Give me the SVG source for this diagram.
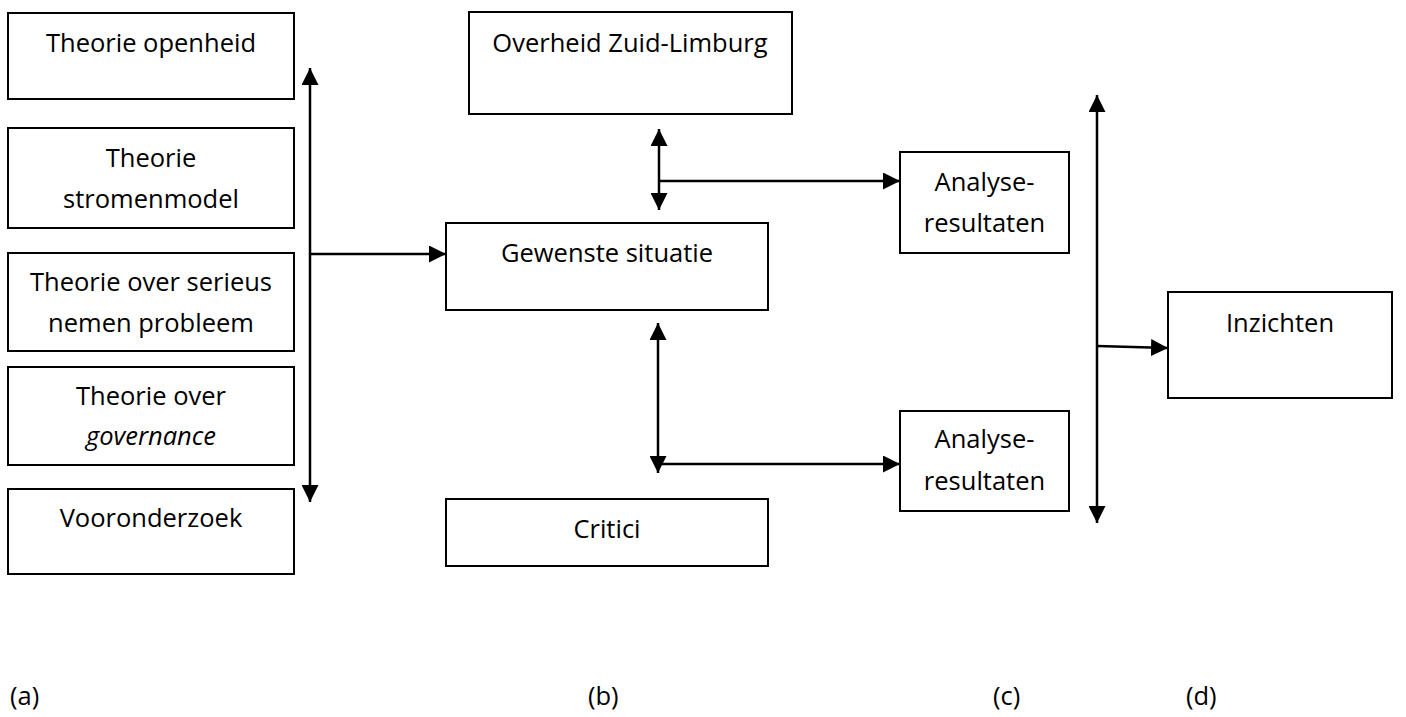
<svg xmlns="http://www.w3.org/2000/svg" width="1406" height="717" viewBox="0 0 1406 717">
<style>
.box{fill:#fff;stroke:#000;stroke-width:2}
.t{font-family:"Open Sans","Liberation Sans",sans-serif;font-size:25.5px;fill:#000;text-anchor:middle}
.lbl{font-family:"Open Sans","Liberation Sans",sans-serif;font-size:25.5px;fill:#000}
.ln{fill:none;stroke:#000;stroke-width:2.5}
</style>
<defs>
<marker id="ah" markerUnits="userSpaceOnUse" markerWidth="17" markerHeight="17" viewBox="0 0 16 16" refX="16" refY="8" orient="auto-start-reverse">
<path d="M0,0 L16,8 L0,16 Z" fill="#000"/>
</marker>
</defs>
<rect width="1406" height="717" fill="#fff"/>
<g id="connectors">
<line class="ln" x1="310" y1="68" x2="310" y2="502" marker-start="url(#ah)" marker-end="url(#ah)"/>
<line class="ln" x1="310" y1="254" x2="446" y2="254" marker-end="url(#ah)"/>
<line class="ln" x1="659" y1="129" x2="659" y2="210" marker-start="url(#ah)" marker-end="url(#ah)"/>
<line class="ln" x1="659" y1="181" x2="900" y2="181" marker-end="url(#ah)"/>
<line class="ln" x1="658" y1="323" x2="658" y2="473" marker-start="url(#ah)" marker-end="url(#ah)"/>
<line class="ln" x1="658" y1="464" x2="900" y2="464" marker-end="url(#ah)"/>
<line class="ln" x1="1097" y1="95" x2="1097" y2="523" marker-start="url(#ah)" marker-end="url(#ah)"/>
<line class="ln" x1="1097" y1="346" x2="1168" y2="348" marker-end="url(#ah)"/>
</g>
<g id="theorie-openheid"><rect class="box" x="8" y="13" width="286" height="86"/><text class="t" x="151" y="52">Theorie openheid</text></g>
<g id="theorie-stromenmodel"><rect class="box" x="8" y="128" width="286" height="100"/><text class="t" x="151" y="167">Theorie</text><text class="t" x="151" y="208">stromenmodel</text></g>
<g id="theorie-serieus"><rect class="box" x="8" y="253" width="286" height="98"/><text class="t" x="151" y="291">Theorie over serieus</text><text class="t" x="151" y="332">nemen probleem</text></g>
<g id="theorie-governance"><rect class="box" x="8" y="367" width="286" height="98"/><text class="t" x="151" y="405">Theorie over</text><text class="t" x="151" y="445" font-style="italic">governance</text></g>
<g id="vooronderzoek"><rect class="box" x="8" y="489" width="286" height="85"/><text class="t" x="151" y="527">Vooronderzoek</text></g>
<g id="overheid"><rect class="box" x="469" y="12" width="323" height="102"/><text class="t" x="630" y="52">Overheid Zuid-Limburg</text></g>
<g id="gewenste-situatie"><rect class="box" x="446" y="223" width="322" height="87"/><text class="t" x="607" y="262">Gewenste situatie</text></g>
<g id="critici"><rect class="box" x="446" y="499" width="322" height="67"/><text class="t" x="607" y="538">Critici</text></g>
<g id="analyse-1"><rect class="box" x="900" y="152" width="169" height="101"/><text class="t" x="984.500" y="191">Analyse-</text><text class="t" x="984.500" y="232">resultaten</text></g>
<g id="analyse-2"><rect class="box" x="900" y="411" width="169" height="100"/><text class="t" x="984.500" y="448">Analyse-</text><text class="t" x="984.500" y="490">resultaten</text></g>
<g id="inzichten"><rect class="box" x="1168" y="292" width="224" height="106"/><text class="t" x="1280" y="332">Inzichten</text></g>
<g id="labels">
<text class="lbl" x="10" y="705">(a)</text>
<text class="lbl" x="588" y="705">(b)</text>
<text class="lbl" x="993" y="705">(c)</text>
<text class="lbl" x="1186" y="705">(d)</text>
</g>
</svg>
